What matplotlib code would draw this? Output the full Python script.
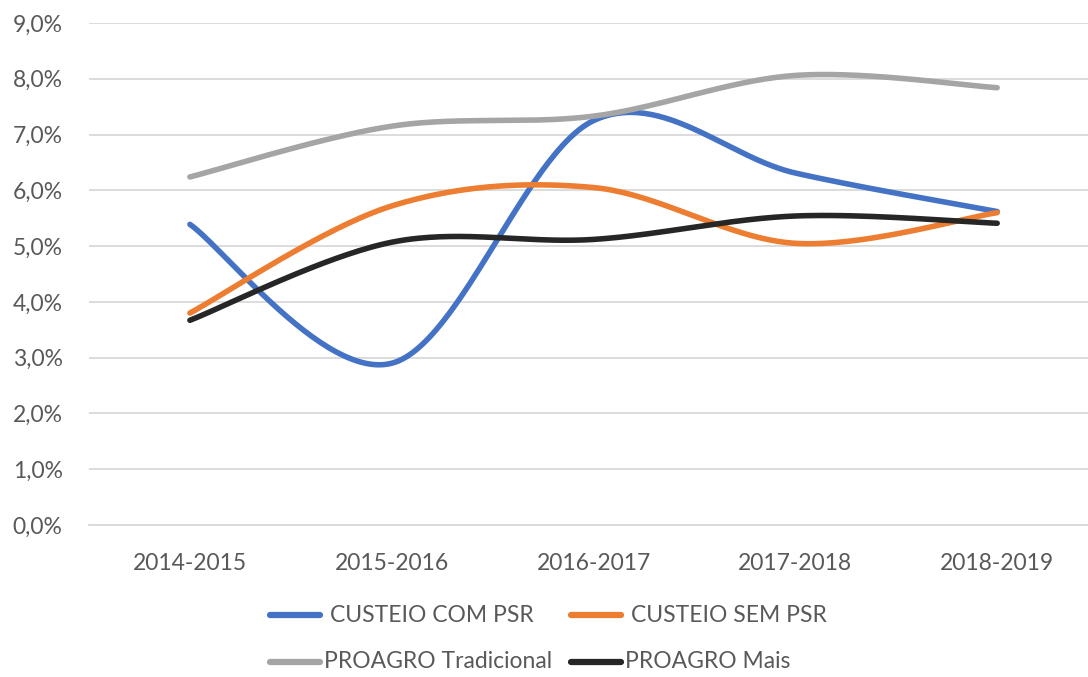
import numpy as np
import matplotlib.pyplot as plt
from matplotlib.lines import Line2D

# safra periods and rates (%)
safras = ["2014-2015", "2015-2016", "2016-2017", "2017-2018", "2018-2019"]
custeio_com_psr = [5.39, 2.90, 7.25, 6.31, 5.62]
custeio_sem_psr = [3.80, 5.72, 6.05, 5.05, 5.60]
proagro_trad = [6.24, 7.15, 7.33, 8.06, 7.84]
proagro_mais = [3.67, 5.07, 5.12, 5.54, 5.41]

names = ["CUSTEIO COM PSR", "CUSTEIO SEM PSR", "PROAGRO Tradicional", "PROAGRO Mais"]
cores = ["#4472C4", "#ED7D31", "#A5A5A5", "#262626"]

plt.rcParams['font.family'] = ['Lato', 'DejaVu Sans']
txt = "#595959"


def smooth(xs, ys, n=60):
    # excel-like smoothed line: cubic bezier with catmull-rom tangents
    p = np.column_stack([xs, ys]).astype(float)
    out = []
    for i in range(len(p) - 1):
        p0 = p[max(i - 1, 0)]
        p1 = p[i]
        p2 = p[i + 1]
        p3 = p[min(i + 2, len(p) - 1)]
        c1 = p1 + (p2 - p0) / 6
        c2 = p2 - (p3 - p1) / 6
        t = np.linspace(0, 1, n)[:, None]
        seg = (1 - t)**3 * p1 + 3 * (1 - t)**2 * t * c1 + 3 * (1 - t) * t**2 * c2 + t**3 * p2
        out.append(seg if i == 0 else seg[1:])
    out = np.vstack(out)
    return out[:, 0], out[:, 1]


fig = plt.figure(figsize=(10.88, 6.77), dpi=100)
ax = fig.add_axes([89 / 1088, 152 / 677, 1 - 89 / 1088, 502 / 677])

x = np.arange(len(safras))
for serie, cor in zip([custeio_com_psr, custeio_sem_psr, proagro_trad, proagro_mais], cores):
    sx, sy = smooth(x, serie)
    ax.plot(sx, sy, color=cor, lw=4, solid_capstyle='round', zorder=3)

ax.set_xlim(-0.5, 4.45)
ax.set_ylim(0, 9)
ax.set_yticks(np.arange(0, 10))
ax.set_yticklabels([f"{v},0%" for v in range(10)])
ax.set_xticks(x)
ax.set_xticklabels(safras)
ax.grid(axis='y', color="#D9D9D9", lw=1.3)
ax.set_axisbelow(True)
for s in ['top', 'right', 'left']:
    ax.spines[s].set_visible(False)
ax.spines['bottom'].set_color("#D9D9D9")
ax.spines['bottom'].set_linewidth(1.3)
ax.tick_params(length=0, labelsize=16.5, colors=txt)
ax.tick_params(axis='x', pad=20)
ax.tick_params(axis='y', pad=19)

# legend drawn by hand, excel layout
leg = [(267, 615, 0), (568, 615, 1), (267, 662, 2), (568, 662, 3)]
for lx, ly, k in leg:
    yy = 1 - ly / 677
    fig.add_artist(Line2D([(lx + 3) / 1088, (lx + 53) / 1088], [yy, yy], color=cores[k],
                          lw=4.5, solid_capstyle='round'))
    gap = 9 if k < 2 else 3
    fig.text((lx + 54 + gap) / 1088, yy, names[k], fontsize=16.5, color=txt, va='center')

plt.savefig('out.png')
